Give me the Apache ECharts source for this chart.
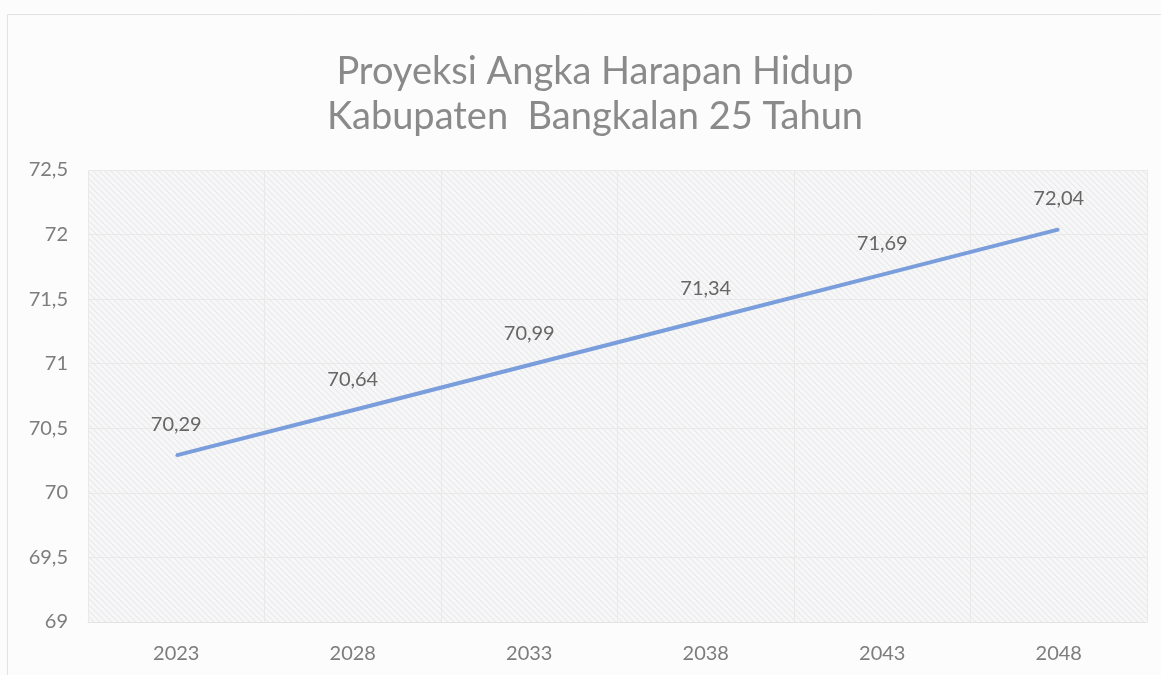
<!DOCTYPE html>
<html>
<head>
<meta charset="utf-8">
<script src="https://cdn.jsdelivr.net/npm/echarts@6/dist/echarts.min.js"></script>
<style>
  html, body { margin: 0; padding: 0; background: #fcfcfc; }
  #chart { width: 1161px; height: 675px; }
</style>
</head>
<body>
<div id="chart"></div>
<script>
// Projected life expectancy, Bangkalan regency, 2023–2048
const years = ['2023', '2028', '2033', '2038', '2043', '2048'];
const lifeExpectancy = [70.29, 70.64, 70.99, 71.34, 71.69, 72.04];
const titleLines = ['Proyeksi Angka Harapan Hidup', 'Kabupaten  Bangkalan 25 Tahun'];

// Fine diagonal hatch used as the plot-area fill
function hatchPattern() {
  const c = document.createElement('canvas');
  c.width = 6; c.height = 6;
  const ctx = c.getContext('2d');
  ctx.fillStyle = '#f7f7f8';
  ctx.fillRect(0, 0, 6, 6);
  ctx.strokeStyle = '#e8e9eb';
  ctx.lineWidth = 1.1;
  ctx.beginPath();
  ctx.moveTo(-1, -1); ctx.lineTo(7, 7);
  ctx.moveTo(-1, 5); ctx.lineTo(1, 7);
  ctx.moveTo(5, -1); ctx.lineTo(7, 1);
  ctx.stroke();
  return c;
}

const fmt = v => String(v).replace('.', ',');
const chart = echarts.init(document.getElementById('chart'), null, { renderer: 'canvas' });

chart.setOption({
  backgroundColor: '#fcfcfc',
  animation: false,
  title: {
    text: titleLines.join('\n'),
    left: 590,
    textAlign: 'center',
    top: 44,
    textStyle: {
      fontFamily: 'Lato',
      fontWeight: 'normal',
      fontSize: 38,
      lineHeight: 45,
      color: '#8a8a8a'
    }
  },
  graphic: [{
    type: 'rect',
    silent: true,
    shape: { x: 7.5, y: 14.5, width: 1160, height: 680 },
    style: { fill: 'none', stroke: '#e2e2e2', lineWidth: 1 }
  }],
  grid: {
    left: 88, right: 14, top: 170, bottom: 53,
    show: true,
    borderWidth: 0,
    backgroundColor: { image: hatchPattern(), repeat: 'repeat' }
  },
  xAxis: {
    type: 'category',
    data: years,
    boundaryGap: true,
    axisLine: { show: true, lineStyle: { color: '#e3e3e3', width: 1 } },
    axisTick: { show: false },
    splitLine: { show: true, lineStyle: { color: '#e9e9ea', width: 1 } },
    axisLabel: {
      margin: 22,
      fontFamily: 'Lato',
      fontSize: 20,
      color: '#7d7d7d'
    }
  },
  yAxis: {
    type: 'value',
    min: 69,
    max: 72.5,
    interval: 0.5,
    axisLine: { show: false },
    axisTick: { show: false },
    splitLine: { show: true, lineStyle: { color: '#e9e9ea', width: 1 } },
    axisLabel: {
      margin: 20,
      fontFamily: 'Lato',
      fontSize: 20,
      color: '#7d7d7d',
      formatter: v => fmt(v)
    }
  },
  series: [{
    type: 'line',
    data: lifeExpectancy,
    showSymbol: true,
    symbol: 'circle',
    symbolSize: 2,
    itemStyle: { color: '#7a9ddb' },
    lineStyle: { color: '#7a9ddb', width: 4 },
    label: {
      show: true,
      position: 'top',
      distance: 20,
      fontFamily: 'Lato',
      fontSize: 20,
      color: '#666666',
      formatter: p => fmt(p.value)
    }
  }]
});
</script>
</body>
</html>
